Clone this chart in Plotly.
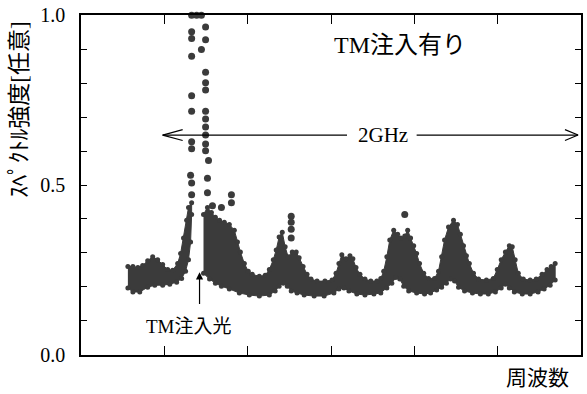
import plotly.graph_objects as go

# Frequency axis in GHz (arbitrary offset), intensity in arbitrary units
# Left part of the spectrum (before the injected TM line): upper / lower envelopes
left_top_x = [0.225, 0.249, 0.273, 0.296, 0.320, 0.344, 0.368, 0.392, 0.416, 0.440, 0.464, 0.478, 0.492, 0.507, 0.516, 0.531]
left_top_y = [0.260, 0.260, 0.257, 0.263, 0.277, 0.289, 0.280, 0.266, 0.251, 0.249, 0.269, 0.298, 0.344, 0.396, 0.434, 0.448]
left_bot_x = [0.531, 0.526, 0.516, 0.502, 0.483, 0.459, 0.426, 0.392, 0.354, 0.320, 0.282, 0.249, 0.225]
left_bot_y = [0.413, 0.332, 0.280, 0.246, 0.225, 0.214, 0.208, 0.205, 0.205, 0.199, 0.185, 0.185, 0.197]

# Right part of the spectrum: upper / lower envelopes
right_top_x = [0.588, 0.607, 0.626, 0.645, 0.665, 0.688, 0.712, 0.736, 0.751, 0.765, 0.784, 0.803, 0.822, 0.856,
               0.884, 0.904, 0.923, 0.937, 0.951, 0.966, 0.980, 0.994, 1.014, 1.033, 1.047, 1.066, 1.085, 1.104,
               1.133, 1.171, 1.205, 1.224, 1.238, 1.252, 1.272, 1.291, 1.305, 1.320, 1.339, 1.363, 1.391, 1.420,
               1.439, 1.453, 1.468, 1.482, 1.501, 1.520, 1.535, 1.554, 1.568, 1.582, 1.597, 1.611, 1.625, 1.645,
               1.668, 1.697, 1.716, 1.731, 1.745, 1.764, 1.788, 1.807, 1.821, 1.836, 1.850, 1.864, 1.884, 1.908,
               1.946, 1.979, 1.998, 2.017, 2.037, 2.056, 2.070, 2.084, 2.099, 2.123, 2.156, 2.185, 2.213, 2.237,
               2.257, 2.276]
right_top_y = [0.413, 0.434, 0.419, 0.405, 0.396, 0.390, 0.384, 0.367, 0.332, 0.303, 0.269, 0.246, 0.237, 0.231,
               0.234, 0.251, 0.280, 0.309, 0.347, 0.361, 0.318, 0.289, 0.303, 0.303, 0.286, 0.260, 0.237, 0.223,
               0.217, 0.217, 0.220, 0.240, 0.269, 0.295, 0.283, 0.292, 0.283, 0.257, 0.237, 0.223, 0.217, 0.217,
               0.225, 0.246, 0.289, 0.338, 0.367, 0.355, 0.344, 0.350, 0.367, 0.344, 0.321, 0.298, 0.269, 0.240,
               0.225, 0.225, 0.246, 0.289, 0.338, 0.376, 0.396, 0.384, 0.355, 0.321, 0.292, 0.269, 0.240, 0.223,
               0.220, 0.225, 0.251, 0.280, 0.303, 0.321, 0.318, 0.280, 0.240, 0.223, 0.220, 0.223, 0.237, 0.251,
               0.260, 0.269]
right_bot_x = [0.588, 0.617, 0.645, 0.674, 0.712, 0.760, 0.808, 0.856, 0.904, 0.932, 0.951, 0.971, 0.990, 1.009,
               1.037, 1.071, 1.119, 1.167, 1.214, 1.238, 1.262, 1.286, 1.324, 1.363, 1.406, 1.439, 1.468, 1.492,
               1.511, 1.530, 1.549, 1.573, 1.611, 1.649, 1.678, 1.707, 1.731, 1.754, 1.774, 1.793, 1.812, 1.841,
               1.879, 1.917, 1.955, 1.989, 2.017, 2.037, 2.056, 2.080, 2.118, 2.156, 2.194, 2.223, 2.252, 2.276]
right_bot_y = [0.240, 0.223, 0.211, 0.202, 0.194, 0.182, 0.176, 0.173, 0.176, 0.188, 0.202, 0.211, 0.202, 0.188,
               0.182, 0.176, 0.173, 0.173, 0.182, 0.194, 0.197, 0.188, 0.179, 0.176, 0.179, 0.182, 0.197, 0.211,
               0.228, 0.223, 0.202, 0.188, 0.182, 0.179, 0.182, 0.191, 0.199, 0.211, 0.223, 0.217, 0.199, 0.188,
               0.182, 0.179, 0.179, 0.185, 0.197, 0.208, 0.197, 0.185, 0.179, 0.179, 0.185, 0.194, 0.205, 0.220]

# Isolated points (injected TM line and a few outliers)
dots_x = [0.531, 0.531, 0.526, 0.531, 0.531, 0.531, 0.531, 0.531, 0.531, 0.531,
          0.531, 0.555, 0.578,
          0.598, 0.598, 0.578, 0.598, 0.598, 0.598, 0.598, 0.598, 0.598, 0.598, 0.598, 0.598, 0.612, 0.607, 0.607,
          0.722, 0.722, 0.674, 0.631,
          1.009, 1.009, 1.009, 1.009, 1.554]
dots_y = [0.471, 0.506, 0.529, 0.607, 0.627, 0.717, 0.763, 0.879, 0.931, 0.951,
          1.000, 1.000, 1.000,
          0.965, 0.928, 0.899, 0.832, 0.801, 0.780, 0.717, 0.694, 0.671, 0.647, 0.621, 0.601, 0.572, 0.520, 0.477,
          0.471, 0.448, 0.434, 0.439,
          0.408, 0.390, 0.370, 0.344, 0.413]

y_tick_vals = [0.0, 0.1, 0.2, 0.3, 0.4, 0.5, 0.6, 0.7, 0.8, 0.9, 1.0]
y_tick_text = ["0.0", "", "", "", "", "0.5", "", "", "", "", "1.0"]
x_tick_vals = [0.4, 0.8, 1.2, 1.6, 2.0]

COL = "#3b3b3b"
SERIF = "Liberation Serif, Times New Roman, Noto Sans CJK JP, serif"
CJK = "Liberation Serif, Noto Sans CJK JP, sans-serif"

fig = go.Figure()
fig.add_trace(go.Scatter(x=left_top_x + left_bot_x, y=left_top_y + left_bot_y, mode="lines+markers",
                         fill="toself", fillcolor=COL, line=dict(color=COL, width=1),
                         marker=dict(color=COL, size=5), hoverinfo="skip"))
fig.add_trace(go.Scatter(x=right_top_x + right_bot_x[::-1], y=right_top_y + right_bot_y[::-1], mode="lines+markers",
                         fill="toself", fillcolor=COL, line=dict(color=COL, width=1),
                         marker=dict(color=COL, size=5), hoverinfo="skip"))
fig.add_trace(go.Scatter(x=dots_x, y=dots_y, mode="markers", cliponaxis=False,
                         marker=dict(color=COL, size=7, line=dict(width=0))))

# 2GHz double arrow (open heads)
ay_ = 0.647
for x0, x1 in [(0.392, 1.277), (1.611, 2.386)]:
    fig.add_shape(type="line", x0=x0, x1=x1, y0=ay_, y1=ay_, line=dict(color="black", width=1.2))
for tip, back in [(0.392, 0.488), (2.386, 2.323)]:
    fig.add_shape(type="line", x0=tip, y0=ay_, x1=back, y1=ay_ + 0.016, line=dict(color="black", width=1.2))
    fig.add_shape(type="line", x0=tip, y0=ay_, x1=back, y1=ay_ - 0.016, line=dict(color="black", width=1.2))

fig.add_annotation(x=1.449, y=ay_, text="2GHz", showarrow=False, xanchor="center", yanchor="middle",
                   font=dict(family=SERIF, size=21, color="black"))
fig.add_annotation(x=1.53, y=0.912, text="TM注入有り", showarrow=False, xanchor="center", yanchor="middle",
                   font=dict(family=CJK, size=24, color="black"))
fig.add_annotation(x=0.569, y=0.243, ax=0.569, ay=0.145, axref="x", ayref="y", text="", showarrow=True,
                   arrowhead=2, arrowsize=1.2, arrowwidth=1.2, arrowcolor="black")
fig.add_annotation(x=0.52, y=0.084, text="TM注入光", showarrow=False, xanchor="center", yanchor="middle",
                   font=dict(family=CJK, size=19, color="black"))
fig.add_annotation(xref="paper", yref="paper", x=0.912, y=-0.069, text="周波数", showarrow=False,
                   xanchor="center", yanchor="middle", font=dict(family=CJK, size=21, color="black"))
fig.add_annotation(xref="paper", yref="paper", x=-0.123, y=0.72, text="ｽﾍﾟｸﾄﾙ強度[任意]", textangle=-90,
                   showarrow=False, xanchor="center", yanchor="middle",
                   font=dict(family=CJK, size=23, color="black"))

fig.update_layout(
    width=587, height=394, margin=dict(l=81, r=4, t=9, b=39),
    paper_bgcolor="white", plot_bgcolor="white", showlegend=False,
)
fig.update_xaxes(range=[0, 2.4], tickvals=x_tick_vals, ticks="inside", ticklen=9, tickwidth=1.2,
                 tickcolor="black", showticklabels=False, showgrid=False, zeroline=False,
                 showline=True, linecolor="black", linewidth=1.5, mirror="ticks")
fig.update_yaxes(range=[-0.0005, 1.0005], tickvals=y_tick_vals, ticktext=y_tick_text, ticks="inside", ticklen=6,
                 tickwidth=1.2, tickcolor="black", showgrid=False, zeroline=False, showline=True,
                 linecolor="black", linewidth=1.5, mirror="ticks", ticklabelstandoff=10,
                 ticklabeloverflow="allow",
                 tickfont=dict(family=SERIF, size=20, color="black"))

fig.write_html("out.html")
